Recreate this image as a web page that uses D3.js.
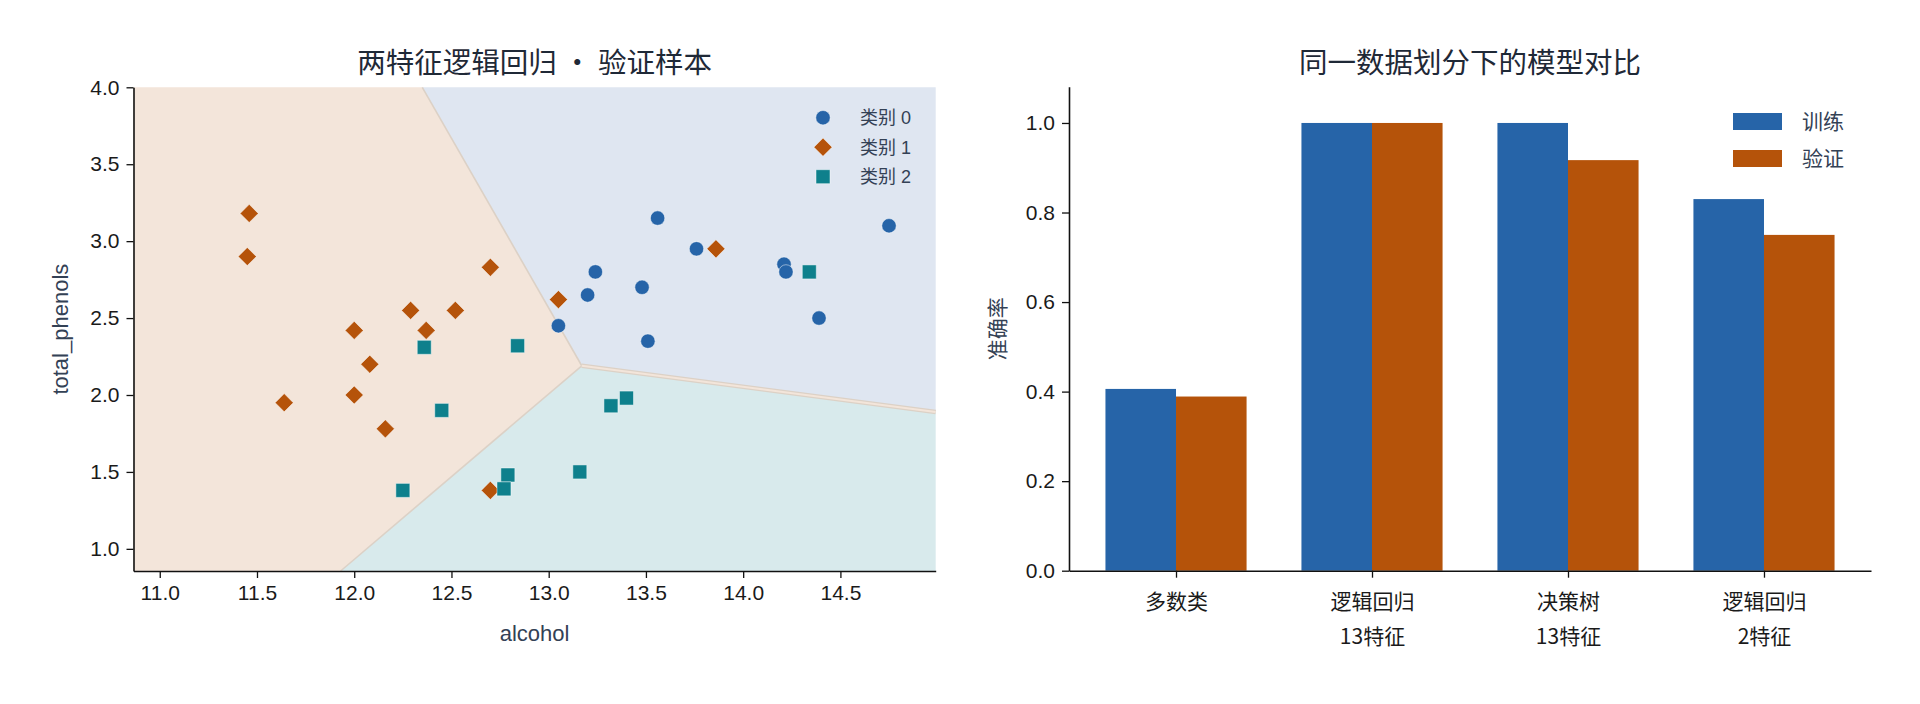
<!DOCTYPE html>
<html>
<head>
<meta charset="utf-8">
<script src="https://cdn.jsdelivr.net/npm/d3@7"></script>
<style>
  body { margin: 0; background: #fff; }
  svg { display: block; font-family: "Liberation Sans", "Noto Sans CJK SC", sans-serif; }
  .tick text { fill: #1a1a1a; }
</style>
</head>
<body>
<svg id="chart" width="1920" height="704"></svg>
<script>
// ---------- data: left panel (validation samples, alcohol vs total_phenols) ----------
const class0 = [[13.05, 2.45], [13.20, 2.65], [13.24, 2.80], [13.48, 2.70], [13.51, 2.35],
                [13.56, 3.15], [13.76, 2.95], [14.21, 2.85], [14.22, 2.80], [14.39, 2.50], [14.75, 3.10]];
const class1 = [[11.46, 3.18], [11.45, 2.90], [11.64, 1.95], [12.00, 2.42], [12.00, 2.00],
                [12.08, 2.20], [12.16, 1.78], [12.29, 2.55], [12.37, 2.42], [12.52, 2.55],
                [12.70, 2.83], [12.70, 1.38], [13.05, 2.62], [13.86, 2.95]];
const class2 = [[12.36, 2.31], [12.45, 1.90], [12.84, 2.32], [12.25, 1.38], [12.79, 1.48],
                [12.77, 1.39], [13.16, 1.50], [13.32, 1.93], [13.40, 1.98], [14.34, 2.80]];
const classNames = ["类别 0", "类别 1", "类别 2"];

// decision boundaries (data units)
const junction = [13.17, 2.19];
const boundary01 = [[12.35, 4.0], junction];
const boundary12 = [junction, [11.93, 0.856]];
const boundary02 = [junction, [14.99, 1.89]];

const xDomainL = [10.865, 14.99];
const yDomainL = [0.856, 4.0];
const xTicksL = [11.0, 11.5, 12.0, 12.5, 13.0, 13.5, 14.0, 14.5];
const yTicksL = [1.0, 1.5, 2.0, 2.5, 3.0, 3.5, 4.0];

// ---------- data: right panel (accuracy comparison) ----------
const models = [["多数类"], ["逻辑回归", "13特征"], ["决策树", "13特征"], ["逻辑回归", "2特征"]];
const trainAcc = [0.406, 1.0, 1.0, 0.830];
const validAcc = [0.389, 1.0, 0.917, 0.750];
const seriesNames = ["训练", "验证"];
const yTicksR = [0.0, 0.2, 0.4, 0.6, 0.8, 1.0];

// ---------- styling ----------
const markColors = ["#2664a8", "#b5530a", "#0e808c"];
const regionColors = ["#dfe6f1", "#f3e5da", "#d8eaec"];
const edgeColor = "#dcd1c6";
const titleColor = "#1f2937";
const labelColor = "#334155";

const svg = d3.select("#chart");

function styleAxis(g) {
  g.selectAll(".domain").attr("stroke", "#111").attr("stroke-width", 1.6);
  g.selectAll(".tick line").attr("stroke", "#111").attr("stroke-width", 1.3);
  g.selectAll(".tick text").attr("font-size", 21);
}

// ==========================================
// LEFT: decision regions + scatter
// ==========================================
const L = { left: 133.5, right: 935.7, top: 87.3, bottom: 571 };
const xL = d3.scaleLinear().domain(xDomainL).range([L.left, L.right]);
const yL = d3.scaleLinear().domain(yDomainL).range([L.bottom, L.top]);
const line = d3.line().x(d => xL(d[0])).y(d => yL(d[1]));

const [x0, x1] = xDomainL, [y0, y1] = yDomainL;
const regions = [
  // class 0: upper right
  [boundary01[0], [x1, y1], boundary02[1], junction],
  // class 1: left
  [[x0, y0], [x0, y1], boundary01[0], junction, boundary12[1]],
  // class 2: lower right
  [boundary12[1], junction, boundary02[1], [x1, y0]]
];

const left = svg.append("g");
left.selectAll("path.region")
  .data(regions)
  .enter().append("path")
  .attr("class", "region")
  .attr("d", d => line(d) + "Z")
  .attr("fill", (d, i) => regionColors[i]);

// boundary edges
[boundary01, boundary12].forEach(b => {
  left.append("path").attr("d", line(b)).attr("fill", "none")
    .attr("stroke", edgeColor).attr("stroke-width", 1.6);
});
left.append("path").attr("d", line(boundary02)).attr("fill", "none")
  .attr("stroke", edgeColor).attr("stroke-width", 4.5);
left.append("path").attr("d", line(boundary02)).attr("fill", "none")
  .attr("stroke", regionColors[1]).attr("stroke-width", 2);

const symbols = [
  d3.symbol().type(d3.symbolCircle).size(Math.PI * 7.2 * 7.2),
  d3.symbol().type(d3.symbolSquare).size(165),
  d3.symbol().type(d3.symbolSquare).size(196)
];
const rotations = [0, 45, 0];

[class0, class1, class2].forEach((pts, ci) => {
  left.selectAll(`path.pt${ci}`)
    .data(pts)
    .enter().append("path")
    .attr("class", `pt${ci}`)
    .attr("d", symbols[ci])
    .attr("transform", d => `translate(${xL(d[0])},${yL(d[1])}) rotate(${rotations[ci]})`)
    .attr("fill", markColors[ci])
    .attr("stroke", "#ffffff")
    .attr("stroke-opacity", 0.6)
    .attr("stroke-width", 0.8);
});

// axes
const gxL = left.append("g")
  .attr("transform", `translate(0,${L.bottom})`)
  .call(d3.axisBottom(xL).tickValues(xTicksL).tickFormat(d3.format(".1f")).tickSize(7).tickPadding(7).tickSizeOuter(0));
styleAxis(gxL);
const gyL = left.append("g")
  .attr("transform", `translate(${L.left},0)`)
  .call(d3.axisLeft(yL).tickValues(yTicksL).tickFormat(d3.format(".1f")).tickSize(7).tickPadding(7).tickSizeOuter(0));
styleAxis(gyL);

left.append("text")
  .attr("x", (L.left + L.right) / 2).attr("y", 73)
  .attr("text-anchor", "middle").attr("font-size", 28.5).attr("fill", titleColor)
  .attr("font-family", "'Noto Sans CJK SC', sans-serif")
  .text("两特征逻辑回归 · 验证样本");
left.append("text")
  .attr("x", (L.left + L.right) / 2).attr("y", 641)
  .attr("text-anchor", "middle").attr("font-size", 22).attr("fill", labelColor)
  .text("alcohol");
left.append("text")
  .attr("transform", `translate(68,${(L.top + L.bottom) / 2}) rotate(-90)`)
  .attr("text-anchor", "middle").attr("font-size", 22).attr("fill", labelColor)
  .text("total_phenols");

// legend
const legL = left.append("g");
classNames.forEach((name, i) => {
  const yy = 117.7 + i * 29.5;
  legL.append("path")
    .attr("d", symbols[i])
    .attr("transform", `translate(823,${yy}) rotate(${rotations[i]})`)
    .attr("fill", markColors[i])
    .attr("stroke", "#ffffff").attr("stroke-opacity", 0.6).attr("stroke-width", 0.8);
  legL.append("text")
    .attr("x", 860).attr("y", yy).attr("dy", "0.35em")
    .attr("font-size", 18).attr("fill", labelColor)
    .text(name);
});

// ==========================================
// RIGHT: grouped bars
// ==========================================
const R = { left: 1069, right: 1871, top: 86.7, bottom: 570.7 };
const barW = 0.36;
const xR = d3.scaleLinear().domain([-0.546, models.length - 1 + 0.546]).range([R.left, R.right]);
const yR = d3.scaleLinear().domain([0, 1.081]).range([R.bottom, R.top]);

const right = svg.append("g");
[trainAcc, validAcc].forEach((vals, si) => {
  right.selectAll(`rect.s${si}`)
    .data(vals)
    .enter().append("rect")
    .attr("class", `s${si}`)
    .attr("x", (d, i) => xR(i + (si === 0 ? -barW : 0)))
    .attr("width", xR(barW) - xR(0))
    .attr("y", d => yR(d))
    .attr("height", d => yR(0) - yR(d))
    .attr("fill", markColors[si]);
});

const gxR = right.append("g")
  .attr("transform", `translate(0,${R.bottom})`)
  .call(d3.axisBottom(xR).tickValues(d3.range(models.length)).tickFormat("").tickSize(7).tickSizeOuter(0));
styleAxis(gxR);
gxR.selectAll(".tick").each(function (d) {
  const t = d3.select(this).append("text")
    .attr("text-anchor", "middle").attr("font-size", 21).attr("fill", "#1a1a1a")
    .attr("font-family", "'Noto Sans CJK SC', sans-serif");
  models[d].forEach((s, k) => {
    t.append("tspan").attr("x", 0).attr("y", 31 + k * 35).attr("dy", "0.35em").text(s);
  });
});

const gyR = right.append("g")
  .attr("transform", `translate(${R.left},0)`)
  .call(d3.axisLeft(yR).tickValues(yTicksR).tickFormat(d3.format(".1f")).tickSize(7).tickPadding(7).tickSizeOuter(0));
styleAxis(gyR);

right.append("text")
  .attr("x", (R.left + R.right) / 2).attr("y", 73)
  .attr("text-anchor", "middle").attr("font-size", 28.5).attr("fill", titleColor)
  .attr("font-family", "'Noto Sans CJK SC', sans-serif")
  .text("同一数据划分下的模型对比");
right.append("text")
  .attr("transform", `translate(1005,${(R.top + R.bottom) / 2}) rotate(-90)`)
  .attr("text-anchor", "middle").attr("font-size", 21).attr("fill", labelColor)
  .attr("font-family", "'Noto Sans CJK SC', sans-serif")
  .text("准确率");

seriesNames.forEach((name, i) => {
  const yy = 113 + i * 37;
  right.append("rect")
    .attr("x", 1733).attr("y", yy).attr("width", 49).attr("height", 17)
    .attr("fill", markColors[i]);
  right.append("text")
    .attr("x", 1802).attr("y", yy + 8.5).attr("dy", "0.35em")
    .attr("font-size", 21).attr("fill", labelColor)
    .attr("font-family", "'Noto Sans CJK SC', sans-serif")
    .text(name);
});
</script>
</body>
</html>
